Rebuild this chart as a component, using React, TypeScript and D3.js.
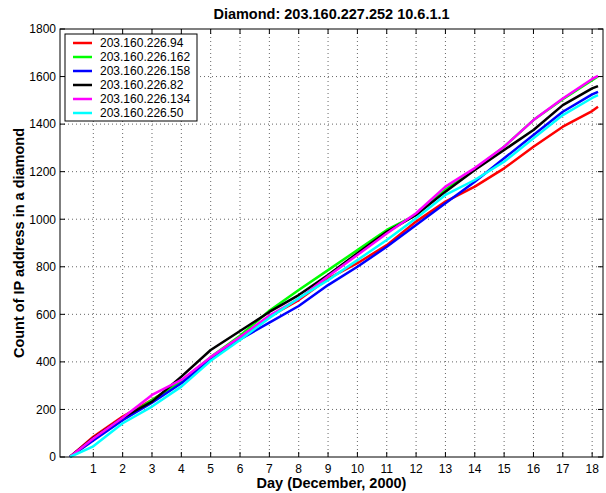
import * as d3 from 'd3';

// days sampled (first point is where counting starts)
const DAYS = [0.2, 1, 2, 3, 4, 5, 6, 7, 8, 9, 10, 11, 12, 13, 14, 15, 16, 17, 18, 18.2];

const HOSTS = [
  '203.160.226.94',
  '203.160.226.162',
  '203.160.226.158',
  '203.160.226.82',
  '203.160.226.134',
  '203.160.226.50',
];
const COLORS = ['#ff0000', '#00ff00', '#0000ff', '#000000', '#ff00ff', '#00ffff'];

const RED = [0, 85, 170, 240, 315, 415, 500, 590, 660, 750, 815, 891, 990, 1074, 1137, 1214, 1305, 1389, 1455, 1473];
const GREEN = [0, 75, 160, 240, 320, 420, 510, 615, 702, 786, 870, 955, 1018, 1125, 1210, 1305, 1417, 1505, 1585, 1600];
const BLUE = [0, 70, 155, 228, 310, 410, 495, 565, 635, 723, 800, 884, 976, 1067, 1158, 1256, 1354, 1452, 1525, 1536];
const BLACK = [0, 80, 165, 233, 338, 450, 530, 610, 681, 765, 857, 947, 1018, 1116, 1207, 1291, 1375, 1480, 1550, 1560];
const MAGENTA = [0, 78, 165, 261, 324, 420, 505, 595, 665, 760, 850, 940, 1025, 1137, 1215, 1305, 1417, 1508, 1590, 1603];
const CYAN = [0, 45, 142, 212, 296, 405, 492, 585, 668, 744, 828, 913, 1004, 1102, 1165, 1242, 1340, 1438, 1510, 1522];

const SERIES = [RED, GREEN, BLUE, BLACK, MAGENTA, CYAN];

const X_TICKS = d3.range(1, 19);
const Y_TICKS = d3.range(0, 1801, 200);

const width = 606;
const height = 493;
const margin = { top: 29, right: 3, bottom: 36, left: 60 };
const innerWidth = width - margin.left - margin.right;
const innerHeight = height - margin.top - margin.bottom;
const FONT = 'Liberation Sans, Arial, Helvetica, sans-serif';

export default function App() {
  const x = d3.scaleLinear().domain([-0.135, 18.37]).range([0, innerWidth]);
  const y = d3.scaleLinear().domain([0, 1800]).range([innerHeight, 0]);

  const line = d3
    .line<number>()
    .x((_, i) => x(DAYS[i]))
    .y((d) => y(d));

  const tickLen = 5;

  return (
    <div style={{ position: 'absolute', left: 0, top: 0 }}>
      <svg width={width} height={height} style={{ display: 'block', background: '#fff' }} fontFamily={FONT}>
        <text x={margin.left + innerWidth / 2} y={19} textAnchor="middle" fontSize={14.5} fontWeight="bold">
          Diamond: 203.160.227.252 10.6.1.1
        </text>
        <g transform={`translate(${margin.left},${margin.top})`}>
          {/* grid */}
          {X_TICKS.map((t) => (
            <line key={'gx' + t} x1={x(t)} x2={x(t)} y1={0} y2={innerHeight} stroke="#666" strokeWidth={1} strokeDasharray="1,3" />
          ))}
          {Y_TICKS.filter((t) => t > 0 && t < 1800).map((t) => (
            <line key={'gy' + t} x1={0} x2={innerWidth} y1={y(t)} y2={y(t)} stroke="#666" strokeWidth={1} strokeDasharray="1,3" />
          ))}

          {/* series */}
          {SERIES.map((s, i) => (
            <path key={'s' + i} d={line(s) || ''} fill="none" stroke={COLORS[i]} strokeWidth={2.5} strokeLinejoin="round" />
          ))}

          {/* ticks on all sides */}
          {X_TICKS.map((t) => (
            <g key={'tx' + t}>
              <line x1={x(t)} x2={x(t)} y1={innerHeight} y2={innerHeight - tickLen} stroke="#000" />
              <line x1={x(t)} x2={x(t)} y1={0} y2={tickLen} stroke="#000" />
              <text x={x(t)} y={innerHeight + 15.5} textAnchor="middle" fontSize={12}>
                {t}
              </text>
            </g>
          ))}
          {Y_TICKS.map((t) => (
            <g key={'ty' + t}>
              <line x1={0} x2={tickLen} y1={y(t)} y2={y(t)} stroke="#000" />
              <line x1={innerWidth} x2={innerWidth - tickLen} y1={y(t)} y2={y(t)} stroke="#000" />
              <text x={-4} y={y(t) + 4.3} textAnchor="end" fontSize={12}>
                {t}
              </text>
            </g>
          ))}
          <rect x={0} y={0} width={innerWidth} height={innerHeight} fill="none" stroke="#000" strokeWidth={1} />

          {/* legend */}
          <g transform="translate(5,5)">
            <rect x={0} y={0} width={132} height={87} fill="#fff" stroke="#000" strokeWidth={1} />
            {HOSTS.map((h, i) => (
              <g key={'l' + h} transform={`translate(0,${9 + i * 14})`}>
                <line x1={8} x2={27} y1={0} y2={0} stroke={COLORS[i]} strokeWidth={2.5} />
                <text x={35} y={4.3} fontSize={12}>
                  {h}
                </text>
              </g>
            ))}
          </g>
        </g>
        <text x={margin.left + innerWidth / 2} y={488} textAnchor="middle" fontSize={14.5} fontWeight="bold">
          Day (December, 2000)
        </text>
        <text
          transform={`translate(24,${margin.top + innerHeight / 2}) rotate(-90)`}
          textAnchor="middle"
          fontSize={14.5}
          fontWeight="bold"
        >
          Count of IP address in a diamond
        </text>
      </svg>
    </div>
  );
}
